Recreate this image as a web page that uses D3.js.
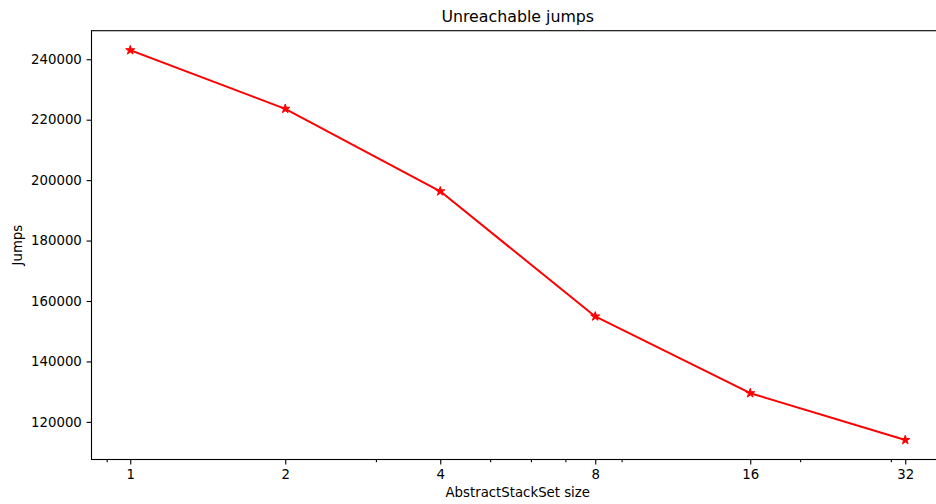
<!DOCTYPE html>
<html>
<head>
<meta charset="utf-8">
<script src="https://cdn.jsdelivr.net/npm/d3@7/dist/d3.min.js"></script>
<style>
  html, body { margin: 0; padding: 0; background: #fff; }
  svg { display: block; font-family: "DejaVu Sans", sans-serif; }
</style>
</head>
<body>
<svg id="chart" width="936" height="504"></svg>
<script>
// ---- data ----
const sizes = [1, 2, 4, 8, 16, 32];
const jumps = [243000, 223600, 196300, 154900, 129500, 114000];
const xTickValues = [1, 2, 4, 8, 16, 32];
const xMinorValues = [0.9, 3, 5, 6, 7, 9, 20, 30];
const yTickValues = [120000, 140000, 160000, 180000, 200000, 220000, 240000];
const titleText = "Unreachable jumps";
const xLabelText = "AbstractStackSet size";
const yLabelText = "Jumps";

// ---- layout ----
const W = 936, H = 504;
const plotLeft = 91.5, plotTop = 30.7, plotBottom = 459.5;
const svg = d3.select("#chart");

// x: log10 scale with 5% margins (in log space)
const lx0 = Math.log10(d3.min(sizes)), lx1 = Math.log10(d3.max(sizes));
const mx = (lx1 - lx0) * 0.05;
const pxPerDecade = 155 / Math.log10(2);
const plotRight = plotLeft + (lx1 - lx0 + 2 * mx) * pxPerDecade;
const x = d3.scaleLog().base(10)
  .domain([Math.pow(10, lx0 - mx), Math.pow(10, lx1 + mx)])
  .range([plotLeft, plotRight]);

const y0 = d3.min(jumps), y1 = d3.max(jumps);
const my = (y1 - y0) * 0.05;
const y = d3.scaleLinear().domain([y0 - my, y1 + my]).range([plotBottom, plotTop]);

// axes
const xAxis = d3.axisBottom(x).tickValues(xTickValues).tickFormat(d3.format("d"))
  .tickSize(4.9).tickPadding(4.8);
const xMinor = d3.axisBottom(x).tickValues(xMinorValues).tickFormat("").tickSize(2.8);
const yAxis = d3.axisLeft(y).tickValues(yTickValues).tickFormat(d3.format("d"))
  .tickSize(4.9).tickPadding(4.8);

function styleAxis(g) {
  g.select(".domain").remove();
  g.selectAll(".tick line").attr("stroke", "#000").attr("stroke-width", 1.1);
  g.selectAll(".tick text").attr("fill", "#000").style("font-size", "13.3px")
    .style("font-family", "DejaVu Sans, sans-serif");
}

svg.append("g").attr("transform", `translate(0,${plotBottom})`).call(xMinor).call(styleAxis);
svg.append("g").attr("transform", `translate(0,${plotBottom})`).call(xAxis).call(styleAxis);
svg.append("g").attr("transform", `translate(${plotLeft},0)`).call(yAxis).call(styleAxis);

// line
const line = d3.line().x((d, i) => x(sizes[i])).y(d => y(d));
svg.append("path").datum(jumps)
  .attr("d", line)
  .attr("fill", "none")
  .attr("stroke", "#ff0000")
  .attr("stroke-width", 2.0)
  .attr("stroke-linejoin", "round")
  .attr("stroke-linecap", "square");

// markers
const star = d3.symbol().type(d3.symbolStar).size(26);
svg.append("g").selectAll("path").data(jumps).join("path")
  .attr("d", star)
  .attr("transform", (d, i) => `translate(${x(sizes[i])},${y(d)})`)
  .attr("fill", "#ff0000")
  .attr("stroke", "#ff0000")
  .attr("stroke-width", 1);

// spines
svg.append("rect")
  .attr("x", plotLeft).attr("y", plotTop)
  .attr("width", plotRight - plotLeft).attr("height", plotBottom - plotTop)
  .attr("fill", "none").attr("stroke", "#000").attr("stroke-width", 1.1);

// title and labels
const cx = (plotLeft + plotRight) / 2;
svg.append("text").attr("x", cx).attr("y", 22)
  .attr("text-anchor", "middle").style("font-size", "15.8px").attr("fill", "#000")
  .text(titleText);
svg.append("text").attr("x", cx).attr("y", 497)
  .attr("text-anchor", "middle").style("font-size", "13.3px").attr("fill", "#000")
  .text(xLabelText);
svg.append("text")
  .attr("transform", `translate(22,${(plotTop + plotBottom) / 2}) rotate(-90)`)
  .attr("text-anchor", "middle").style("font-size", "13.3px").attr("fill", "#000")
  .text(yLabelText);
</script>
</body>
</html>
